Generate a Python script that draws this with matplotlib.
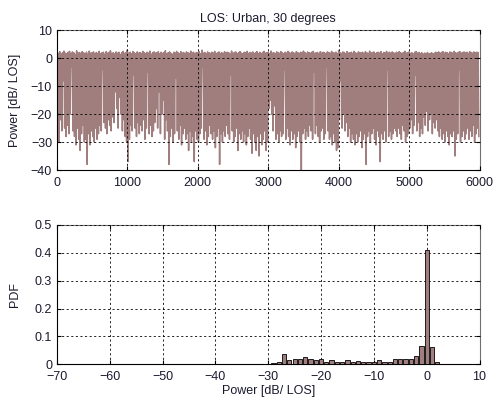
import numpy as np
import matplotlib.pyplot as plt

plt.rcParams['font.family'] = ['Liberation Sans', 'DejaVu Sans']
plt.rcParams['font.size'] = 9

# received power, one peak and one fade value per 20-sample block
peak_db = [
    2.1, 1.8, 2.4, 1.5, 2.0, 2.6, 1.9, 1.7, 2.2, 2.5,
    1.6, 2.3, 2.0, 1.4, 2.7, 1.9, 2.1, 1.8, 2.4, 2.0,
    1.7, 2.2, 1.5, 2.6, 1.9, 2.0, 2.3, 1.6, 2.1, 1.8,
    2.5, 1.7, 2.0, 2.2, 1.5, 2.4, 1.9, 2.1, 2.7, 1.8,
    2.0, 1.6, 2.3, 1.9, 2.2, 1.4, 2.0, 2.5, 1.8, 2.1,
    3.0, 1.9, 2.2, 1.7, 2.4, 2.0, 1.6, 2.3, 1.9, 2.1,
    1.8, 2.5, 2.0, 1.7, 2.2, 1.9, 2.6, 1.5, 2.1, 2.3,
    1.9, 2.0, 2.4, 1.6, 2.2, 1.8, 2.1, 2.7, 1.7, 2.0,
    2.3, 1.8, 1.5, 2.2, 1.9, 2.5, 2.0, 1.7, 2.4, 1.9,
    2.1, 1.6, 2.3, 2.0, 1.8, 2.6, 1.9, 2.2, 1.5, 2.1,
    2.0, 2.4, 1.7, 2.9, 1.9, 2.1, 1.6, 2.3, 2.0, 1.8,
    2.2, 1.9, 2.5, 1.7, 2.0, 2.3, 1.8, 2.1, 1.6, 2.4,
    1.9, 2.2, 2.0, 1.5, 2.6, 1.8, 2.1, 2.3, 1.7, 2.0,
    2.4, 1.9, 1.6, 2.2, 2.0, 2.5, 1.8, 2.1, 1.9, 2.3,
    1.7, 2.0, 2.4, 1.8, 2.2, 1.6, 2.1, 2.5, 1.9, 2.0,
    2.2, 1.8, 2.6, 1.9, 2.0, 1.7, 2.3, 2.1, 1.8, 2.4,
    2.0, 1.6, 2.2, 1.9, 2.5, 2.1, 1.8, 2.3, 2.0, 1.7,
    2.4, 2.0, 1.8, 2.2, 1.9, 2.6, 2.1, 1.7, 2.3, 2.0,
    1.9, 2.2, 2.5, 1.8, 2.0, 2.1, 1.6, 2.4, 1.9, 2.2,
    2.0, 1.7, 2.3, 2.1, 1.8, 2.5, 2.0, 1.9, 2.2, 1.6,
    2.8, 2.0, 1.8, 2.3, 2.1, 1.7, 2.4, 1.9, 2.0, 2.2,
    1.8, 2.5, 2.0, 1.6, 2.3, 2.1, 1.9, 2.2, 1.7, 2.4,
    2.0, 1.8, 2.6, 1.9, 2.1, 2.3, 1.7, 2.0, 2.2, 1.9,
    2.4, 1.6, 2.1, 2.0, 2.5, 1.8, 2.2, 1.9, 2.3, 2.0,
    1.7, 2.2, 1.9, 2.4, 2.0, 1.8, 2.1, 2.5, 1.9, 2.0,
    2.3, 1.8, 2.0, 1.6, 2.2, 2.4, 1.9, 2.1, 1.7, 2.0,
    1.5, 1.9, 1.7, 2.1, 1.6, 1.8, 2.0, 1.5, 1.9, 2.2,
    2.0, 2.3, 1.8, 2.1, 2.4, 1.9, 2.2, 2.0, 1.7, 2.3,
    2.1, 1.9, 2.5, 2.0, 1.8, 2.2, 2.4, 1.9, 2.1, 2.3,
    2.0, 2.2, 1.8, 2.4, 2.1, 1.9, 2.3, 2.0, 2.2, 2.1,
]
fade_db = [
    -27, -30, -22, -26, -8, -25, -28, -24, -27, -20,
    -3, -26, -28, -31, -25, -29, -33, -27, -24, -30,
    -29, -38, -27, -31, -26, -28, -30, -25, -29, -27,
    -24, -26, -4, -23, -25, -27, -22, -24, -26, -21,
    -23, -12, -18, -25, -14, -20, -26, -22, -28, -30,
    -37, -29, -24, -26, -6, -25, -28, -23, -27, -24,
    -26, -22, -29, -25, -5, -27, -24, -28, -26, -23,
    -18, -25, -12, -27, -20, -15, -29, -22, -26, -38,
    -28, -25, -30, -27, -7, -26, -29, -24, -31, -27,
    -25, -29, -27, -33, -26, -30, -28, -37, -26, -29,
    -30, -27, -25, -3, -29, -26, -31, -28, -24, -27,
    -29, -26, -32, -28, -25, -38, -27, -30, -26, -28,
    -24, -27, -29, -6, -26, -30, -28, -25, -33, -27,
    -29, -26, -30, -27, -31, -28, -25, -29, -34, -27,
    -30, -33, -28, -35, -27, -31, -29, -26, -33, -30,
    -18, -15, -20, -26, -17, -29, -27, -30, -26, -28,
    -27, -4, -29, -25, -28, -31, -26, -29, -27, -32,
    -28, -26, -30, -40, -27, -25, -29, -26, -28, -24,
    -26, -29, -5, -27, -24, -28, -30, -26, -25, -29,
    -27, -3, -26, -29, -28, -31, -27, -30, -33, -32,
    -22, -8, -25, -20, -26, -23, -28, -25, -30, -27,
    -29, -31, -27, -30, -28, -26, -32, -29, -27, -38,
    -28, -26, -30, -27, -25, -29, -31, -26, -28, -37,
    -27, -29, -26, -30, -4, -28, -26, -29, -27, -25,
    -26, -28, -25, -27, -29, -24, -26, -30, -28, -27,
    -25, -22, -27, -24, -6, -26, -23, -28, -25, -27,
    -21, -24, -19, -26, -22, -20, -27, -23, -25, -22,
    -26, -28, -25, -29, -27, -30, -26, -28, -31, -27,
    -28, -26, -35, -29, -27, -4, -30, -28, -26, -29,
    -27, -25, -29, -26, -28, -24, -30, -27, -25, -28,
]
sample_step = 10

# histogram of the power, 1 dB bins
hist_centres = list(range(-40, 5))
hist_pdf = [
    0.001, 0.001, 0.001, 0.001, 0.001, 0.001, 0.001, 0.001, 0.001, 0.001,
    0.002, 0.004, 0.007, 0.039, 0.014, 0.018, 0.020, 0.025, 0.018, 0.015,
    0.018, 0.008, 0.014, 0.010, 0.010, 0.014, 0.008, 0.011, 0.007, 0.007,
    0.007, 0.014, 0.007, 0.007, 0.018, 0.018, 0.018, 0.021, 0.029, 0.067,
    0.410, 0.063, 0.007, 0.002, 0.001,
]

line_col = '#a07e7e'
txt_col = '#1a1a2e'

power_db = np.ravel(np.column_stack([peak_db, fade_db]))
sample_idx = np.arange(len(power_db)) * sample_step


def style_axes(ax):
    ax.grid(True, color='k', linestyle=(0, (2.5, 3)), linewidth=0.6)
    ax.set_axisbelow(False)
    ax.tick_params(direction='in', length=3, top=True, right=True,
                   colors='k', labelcolor=txt_col, labelsize=9)
    ax.tick_params(axis='x', pad=5)
    for side in ('top', 'right'):
        ax.spines[side].set_color('#707070')
    for side in ('left', 'bottom'):
        ax.spines[side].set_color('k')
    for sp in ax.spines.values():
        sp.set_linewidth(0.8)


fig = plt.figure(figsize=(4.99, 4.0), dpi=100)

ax1 = fig.add_axes([0.114, 0.575, 0.847, 0.349])
ax1.plot(sample_idx, power_db, color=line_col, lw=1.1)
ax1.set_xlim(0, 6000)
ax1.set_ylim(-40, 10)
ax1.set_xticks(range(0, 6001, 1000))
ax1.set_yticks(range(-40, 11, 10))
ax1.set_ylabel('Power [dB/ LOS]', color=txt_col)
ax1.yaxis.set_label_coords(-0.085, 0.5)
ax1.set_title('LOS: Urban, 30 degrees', color=txt_col, fontsize=9, pad=6)
style_axes(ax1)

ax2 = fig.add_axes([0.114, 0.089, 0.847, 0.349])
ax2.bar(hist_centres, hist_pdf, width=0.8, color=line_col,
        edgecolor='k', linewidth=0.6, zorder=3)
ax2.set_xlim(-70, 10)
ax2.set_ylim(0, 0.5)
ax2.set_xticks(range(-70, 11, 10))
ax2.set_yticks([0, 0.1, 0.2, 0.3, 0.4, 0.5])
ax2.set_yticklabels(['0', '0.1', '0.2', '0.3', '0.4', '0.5'])
ax2.set_xlabel('Power [dB/ LOS]', color=txt_col, labelpad=1)
ax2.set_ylabel('PDF', color=txt_col)
ax2.yaxis.set_label_coords(-0.085, 0.5)
style_axes(ax2)

fig.savefig('out.png', dpi=100)
